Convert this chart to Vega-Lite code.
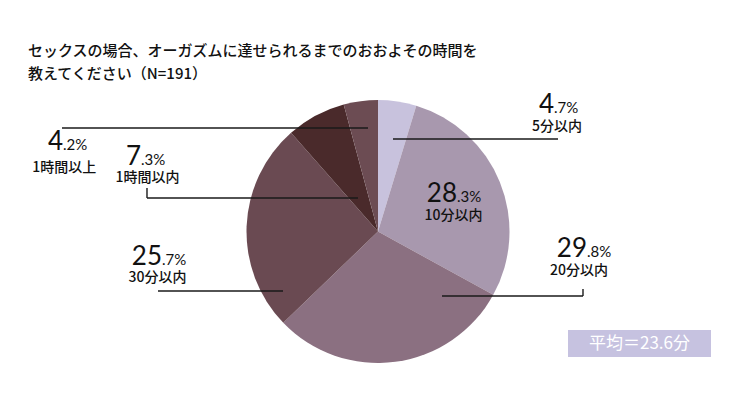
{
  "$schema": "https://vega.github.io/schema/vega-lite/v6.json",
  "width": 750,
  "height": 394,
  "autosize": {"type": "none"},
  "padding": 0,
  "background": "white",
  "title": {
    "text": ["セックスの場合、オーガズムに達せられるまでのおおよその時間を", "教えてください（N=191）"],
    "anchor": "start",
    "frame": "group",
    "offset": -82,
    "dx": 28,
    "font": "Noto Sans CJK JP",
    "fontSize": 15,
    "fontWeight": 500,
    "lineHeight": 23,
    "color": "#111111"
  },
  "config": {"view": {"stroke": null}},
  "datasets": {
    "slices": [
      {"category": "5分以内", "pct": 4.7, "idx": 1, "big": "4", "small": ".7%", "bx": 133.84, "by": 89.89, "lx": 136.12, "ly": 79.7},
      {"category": "10分以内", "pct": 28.3, "idx": 2, "big": "28", "small": ".3%", "bx": 60.08, "by": 22.66, "lx": 57.41, "ly": 11.79},
      {"category": "20分以内", "pct": 29.8, "idx": 3, "big": "29", "small": ".8%", "bx": 158.94, "by": -19.16, "lx": 152.85, "ly": -30.04},
      {"category": "30分以内", "pct": 25.7, "idx": 4, "big": "25", "small": ".7%", "bx": -164.26, "by": -25.48, "lx": -167.68, "ly": -35.59},
      {"category": "1時間以内", "pct": 7.3, "idx": 5, "big": "7", "small": ".3%", "bx": -180.23, "by": 50.57, "lx": -175.29, "ly": 40.46},
      {"category": "1時間以上", "pct": 4.2, "idx": 6, "big": "4", "small": ".2%", "bx": -239.55, "by": 61.98, "lx": -238.56, "ly": 48.06}
    ],
    "leaders": [
      {"x1": 11.41, "y1": 70.34, "x2": 136.88, "y2": 70.34},
      {"x1": 48.67, "y1": -49.05, "x2": 155.89, "y2": -49.05},
      {"x1": 155.89, "y1": -49.05, "x2": 155.89, "y2": -43.73},
      {"x1": -167.3, "y1": -45.25, "x2": -72.24, "y2": -45.25},
      {"x1": -175.67, "y1": 33.08, "x2": -175.67, "y2": 25.48},
      {"x1": -175.67, "y1": 25.48, "x2": -15.21, "y2": 25.48},
      {"x1": -240.31, "y1": 78.71, "x2": -7.6, "y2": 78.71}
    ],
    "summary": [
      {"label": "平均＝23.6分", "x1": 144.49, "x2": 253.24, "y1": -74.9, "y2": -95.4, "cx": 198.86, "cy": -85.17}
    ]
  },
  "layer": [
    {
      "data": {"name": "slices"},
      "mark": {"type": "arc", "outerRadius": 131.5, "stroke": null},
      "encoding": {
        "x": {"datum": 0, "type": "quantitative", "scale": {"domain": [-287.45, 282.89], "nice": false, "zero": false}, "axis": null},
        "y": {"datum": 0, "type": "quantitative", "scale": {"domain": [-123.57, 176.05], "nice": false, "zero": false}, "axis": null},
        "theta": {"field": "pct", "type": "quantitative", "stack": true},
        "order": {"field": "idx", "type": "quantitative"},
        "color": {
          "field": "category",
          "type": "nominal",
          "scale": {
            "domain": ["5分以内", "10分以内", "20分以内", "30分以内", "1時間以内", "1時間以上"],
            "range": ["#c8c2dd", "#a898ae", "#8b7081", "#6a4a52", "#4a2a2b", "#6c4c53"]
          },
          "legend": null
        }
      }
    },
    {
      "data": {"name": "leaders"},
      "mark": {"type": "rule", "color": "#1a1a1a", "strokeWidth": 1.4},
      "encoding": {
        "x": {"field": "x1", "type": "quantitative", "scale": {"domain": [-287.45, 282.89], "nice": false, "zero": false}, "axis": null},
        "x2": {"field": "x2"},
        "y": {"field": "y1", "type": "quantitative", "scale": {"domain": [-123.57, 176.05], "nice": false, "zero": false}, "axis": null},
        "y2": {"field": "y2"}
      }
    },
    {
      "data": {"name": "slices"},
      "mark": {"type": "text", "align": "right", "baseline": "alphabetic", "font": "Lato", "fontSize": 26, "color": "#111111"},
      "encoding": {
        "x": {"field": "bx", "type": "quantitative", "scale": {"domain": [-287.45, 282.89], "nice": false, "zero": false}, "axis": null},
        "y": {"field": "by", "type": "quantitative", "scale": {"domain": [-123.57, 176.05], "nice": false, "zero": false}, "axis": null},
        "text": {"field": "big"}
      }
    },
    {
      "data": {"name": "slices"},
      "mark": {"type": "text", "align": "left", "baseline": "alphabetic", "font": "Lato", "fontSize": 15, "color": "#111111"},
      "encoding": {
        "x": {"field": "bx", "type": "quantitative", "scale": {"domain": [-287.45, 282.89], "nice": false, "zero": false}, "axis": null},
        "y": {"field": "by", "type": "quantitative", "scale": {"domain": [-123.57, 176.05], "nice": false, "zero": false}, "axis": null},
        "text": {"field": "small"}
      }
    },
    {
      "data": {"name": "slices"},
      "mark": {"type": "text", "align": "center", "baseline": "middle", "font": "Noto Sans CJK JP", "fontSize": 14, "fontWeight": 500, "color": "#111111"},
      "encoding": {
        "x": {"field": "lx", "type": "quantitative", "scale": {"domain": [-287.45, 282.89], "nice": false, "zero": false}, "axis": null},
        "y": {"field": "ly", "type": "quantitative", "scale": {"domain": [-123.57, 176.05], "nice": false, "zero": false}, "axis": null},
        "text": {"field": "category"}
      }
    },
    {
      "data": {"name": "summary"},
      "mark": {"type": "rect", "color": "#c6c2e0"},
      "encoding": {
        "x": {"field": "x1", "type": "quantitative", "scale": {"domain": [-287.45, 282.89], "nice": false, "zero": false}, "axis": null},
        "x2": {"field": "x2"},
        "y": {"field": "y1", "type": "quantitative", "scale": {"domain": [-123.57, 176.05], "nice": false, "zero": false}, "axis": null},
        "y2": {"field": "y2"}
      }
    },
    {
      "data": {"name": "summary"},
      "mark": {"type": "text", "align": "center", "baseline": "middle", "font": "Noto Sans CJK JP", "fontSize": 17, "color": "white"},
      "encoding": {
        "x": {"field": "cx", "type": "quantitative", "scale": {"domain": [-287.45, 282.89], "nice": false, "zero": false}, "axis": null},
        "y": {"field": "cy", "type": "quantitative", "scale": {"domain": [-123.57, 176.05], "nice": false, "zero": false}, "axis": null},
        "text": {"field": "label"}
      }
    }
  ]
}
